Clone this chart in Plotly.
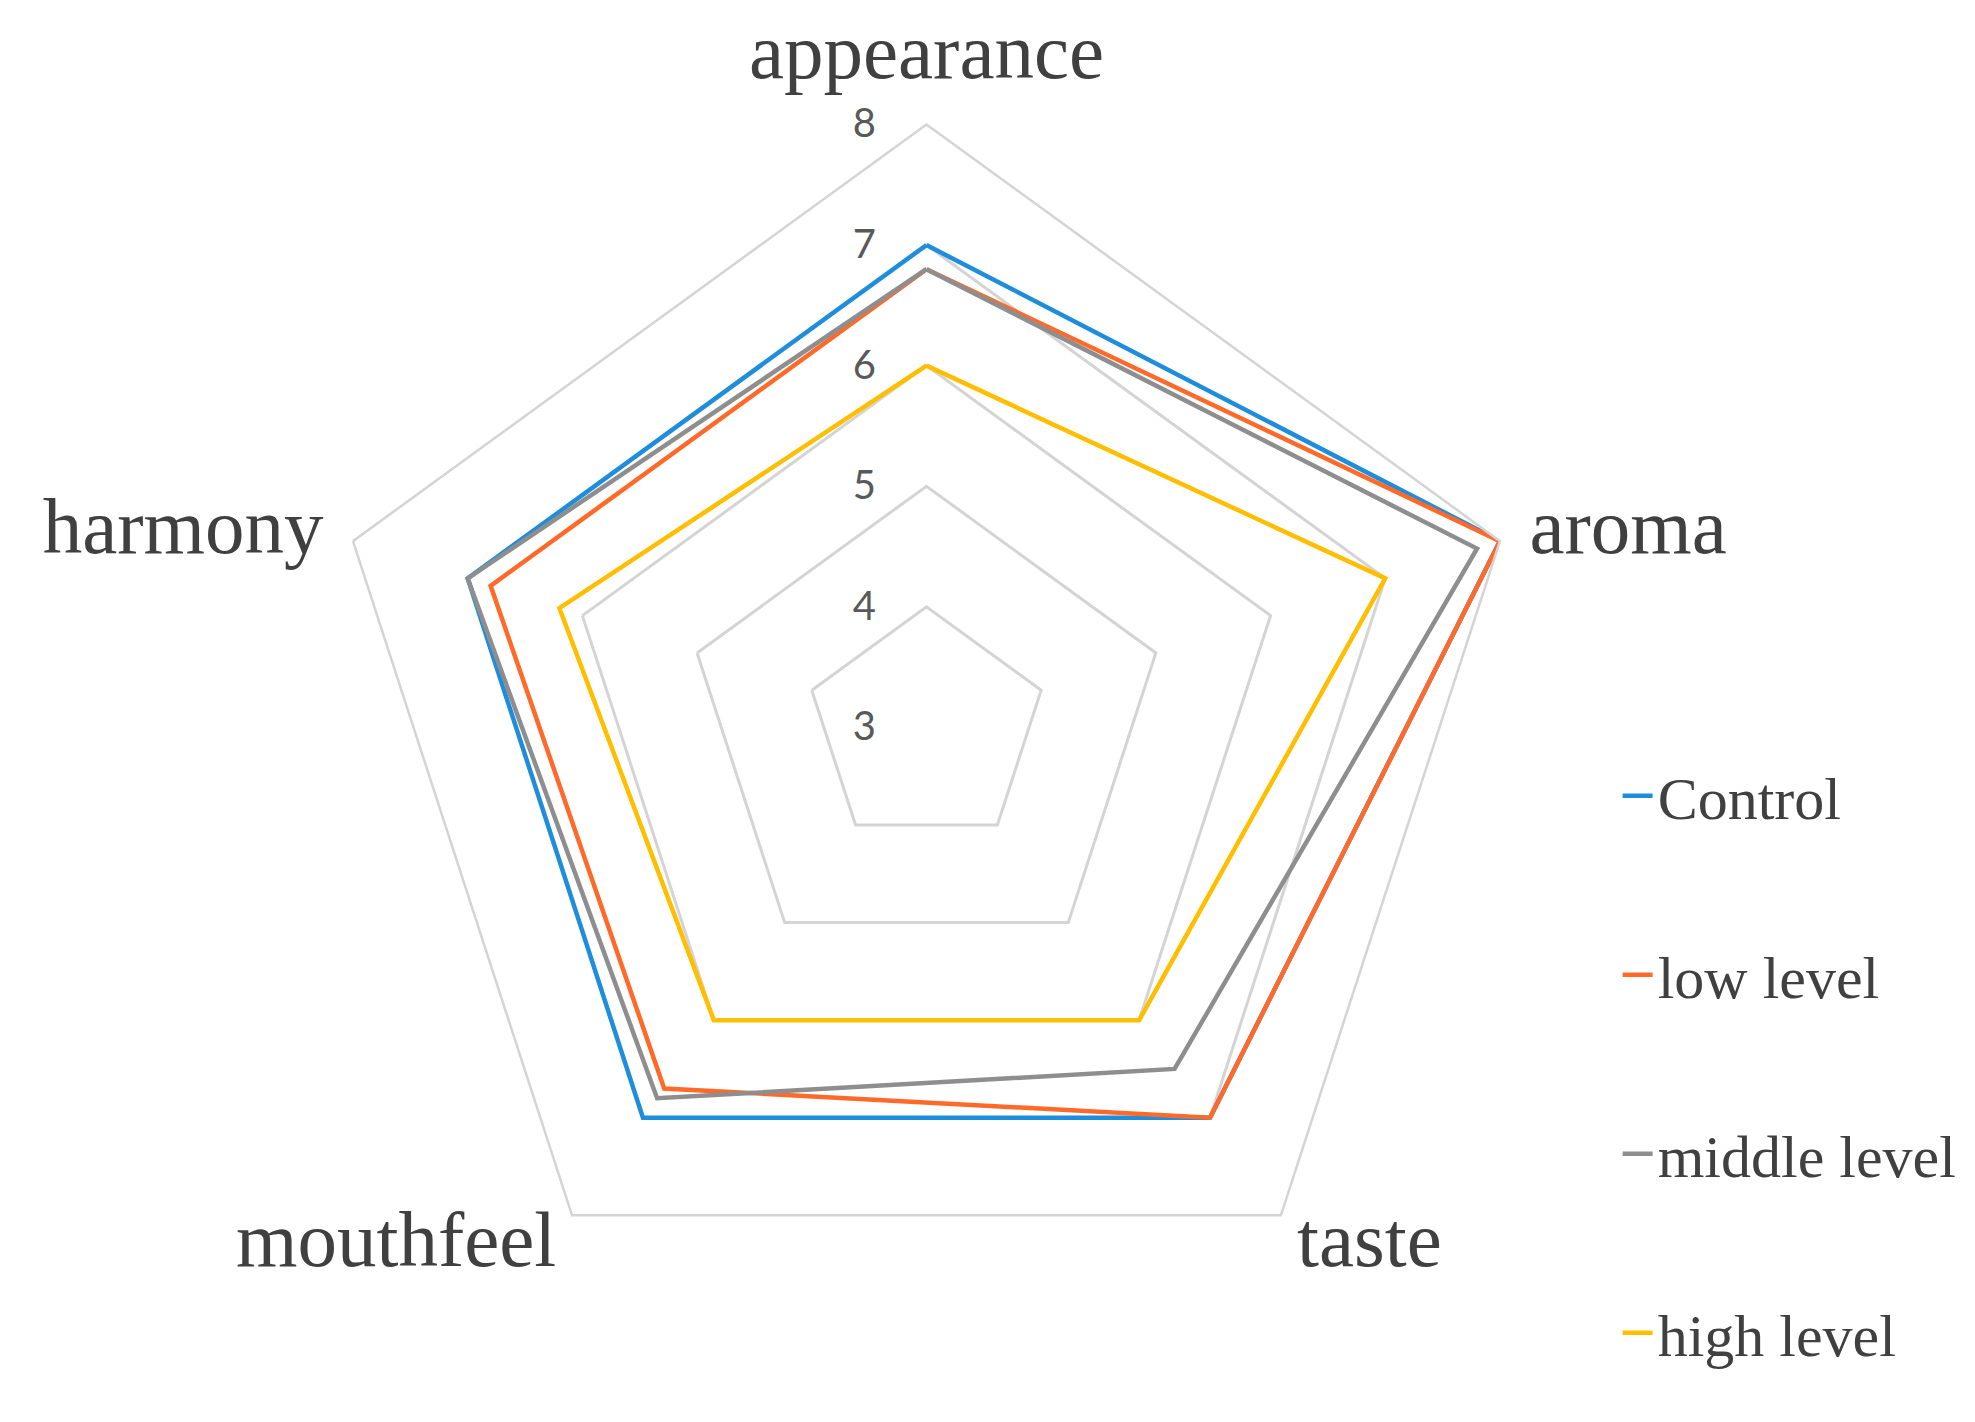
import plotly.graph_objects as go

categories = ["appearance", "aroma", "taste", "mouthfeel", "harmony"]
control = [7.0, 8.0, 7.0, 7.0, 7.0]
low_level = [6.8, 8.0, 7.0, 6.7, 6.8]
middle_level = [6.8, 7.8, 6.5, 6.8, 7.0]
high_level = [6.0, 7.0, 6.0, 6.0, 6.2]
series_names = ["Control", "low level", "middle level", "high level"]
series_values = [control, low_level, middle_level, high_level]
series_colors = ["#1E8EDC", "#FF6A2A", "#8E8E8E", "#FFBE00"]
radial_ticks = [3, 4, 5, 6, 7, 8]
# angular labels drawn by the axis (bottom two drawn as annotations)
angular_ticktext = ["appearance", "aroma", "", "", "harmony"]

label_font = dict(family="Liberation Serif, Times New Roman, serif", size=79, color="#404040")

fig = go.Figure()
for i, (name, vals, col) in enumerate(zip(series_names, series_values, series_colors)):
    fig.add_trace(go.Scatterpolar(
        r=vals + vals[:1],
        theta=categories + categories[:1],
        mode="lines",
        name=name,
        legendgroup=str(i),
        line=dict(color=col, width=4.5),
    ))

fig.update_layout(
    width=1975, height=1422,
    paper_bgcolor="white",
    plot_bgcolor="white",
    margin=dict(l=0, r=0, t=0, b=0),
    polar=dict(
        domain=dict(x=[0.1597, 0.7704], y=[0.0700, 0.9181]),
        bgcolor="white",
        gridshape="linear",
        radialaxis=dict(
            range=[3, 8],
            tickvals=radial_ticks,
            angle=90,
            tickangle=90,
            side="counterclockwise",
            showline=False,
            ticks="outside",
            ticklen=36,
            tickcolor="rgba(0,0,0,0)",
            showgrid=True,
            gridcolor="#D4D4D4",
            gridwidth=2.5,
            tickfont=dict(family="Lato, Open Sans, sans-serif", size=40, color="#595959"),
        ),
        angularaxis=dict(
            direction="clockwise",
            rotation=90,
            showgrid=False,
            showline=True,
            linecolor="#D4D4D4",
            linewidth=2.5,
            ticks="outside",
            ticklen=14,
            tickcolor="rgba(0,0,0,0)",
            tickvals=categories,
            ticktext=angular_ticktext,
            tickfont=label_font,
        ),
    ),
    annotations=[
        dict(text=categories[2], x=0.6517, y=0.1343, xref="paper", yref="paper",
             xanchor="left", yanchor="middle", showarrow=False, font=label_font),
        dict(text=categories[3], x=0.2785, y=0.1343, xref="paper", yref="paper",
             xanchor="right", yanchor="middle", showarrow=False, font=label_font),
    ],
    showlegend=True,
    legend=dict(
        x=0.815, y=0.478, xanchor="left", yanchor="top",
        font=dict(family="Liberation Serif, Times New Roman, serif", size=60, color="#404040"),
        tracegroupgap=98,
        bgcolor="rgba(0,0,0,0)",
        itemwidth=30,
    ),
)

fig.write_html("out.html")
